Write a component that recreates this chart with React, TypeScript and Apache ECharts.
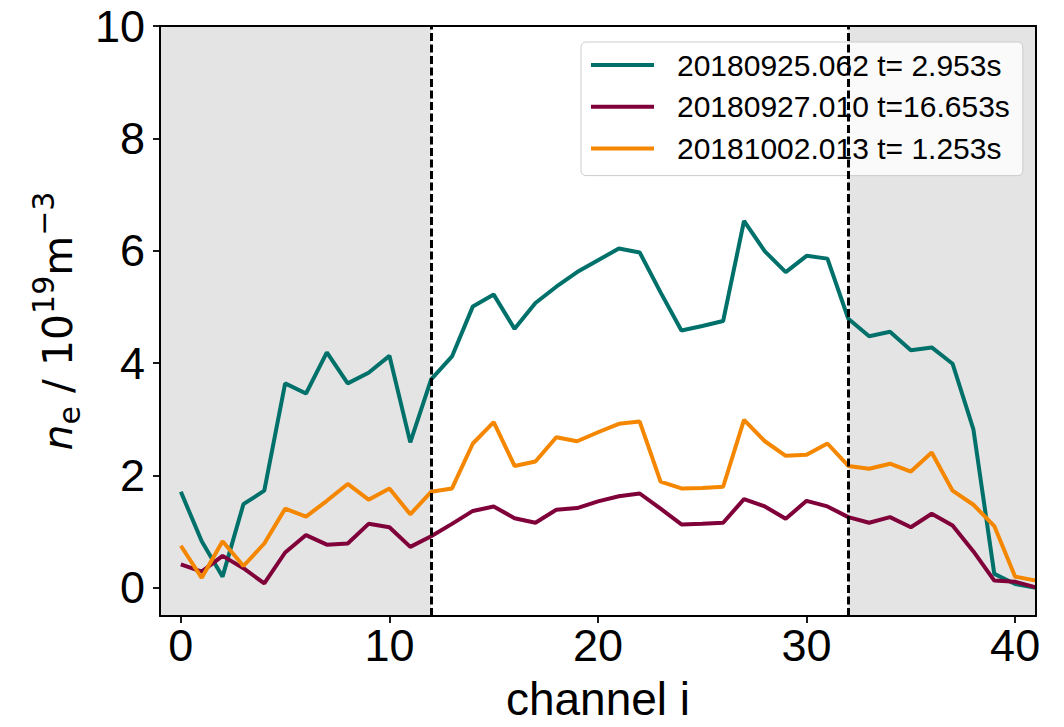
import React, { useEffect, useRef } from "react";
import * as echarts from "echarts";

const channels = [
  0, 1, 2, 3, 4, 5, 6, 7, 8, 9, 10, 11, 12, 13, 14, 15, 16, 17, 18, 19, 20,
  21, 22, 23, 24, 25, 26, 27, 28, 29, 30, 31, 32, 33, 34, 35, 36, 37, 38, 39, 40, 41,
];

const teal = [
  1.71, 0.83, 0.2, 1.49, 1.73, 3.64, 3.46, 4.19, 3.64, 3.83, 4.13, 2.59, 3.71, 4.12,
  5.01, 5.22, 4.61, 5.07, 5.36, 5.62, 5.83, 6.04, 5.97, 5.26, 4.58, 4.66, 4.75, 6.53,
  5.99, 5.62, 5.91, 5.86, 4.79, 4.48, 4.56, 4.23, 4.28, 3.99, 2.82, 0.25, 0.07, 0.0,
];

const maroon = [
  0.42, 0.29, 0.57, 0.35, 0.08, 0.63, 0.94, 0.77, 0.79, 1.14, 1.08, 0.73, 0.92, 1.14,
  1.37, 1.45, 1.24, 1.16, 1.39, 1.42, 1.54, 1.63, 1.68, 1.41, 1.13, 1.14, 1.16, 1.58,
  1.45, 1.23, 1.55, 1.45, 1.26, 1.16, 1.26, 1.08, 1.32, 1.11, 0.65, 0.13, 0.11, 0.01,
];

const orange = [
  0.75, 0.18, 0.83, 0.39, 0.79, 1.41, 1.27, 1.55, 1.85, 1.57, 1.77, 1.31, 1.71, 1.77,
  2.57, 2.95, 2.17, 2.25, 2.68, 2.61, 2.77, 2.92, 2.96, 1.89, 1.77, 1.78, 1.8, 2.99,
  2.61, 2.35, 2.37, 2.57, 2.17, 2.12, 2.21, 2.07, 2.41, 1.73, 1.48, 1.1, 0.2, 0.13,
];

const seriesNames = [
  "20180925.062 t= 2.953s",
  "20180927.010 t=16.653s",
  "20181002.013 t= 1.253s",
];
const seriesColors = ["#00716a", "#80003a", "#f58700"];

const xTicks = [0, 10, 20, 30, 40];
const yTicks = [0, 2, 4, 6, 8, 10];
const xRange = [-1, 41];
const yRange = [-0.5, 10];
const shadedRanges = [
  [-1, 12],
  [32, 41],
];
const dashedLines = [12, 32];

export default function App() {
  const ref = useRef<HTMLDivElement>(null);

  useEffect(() => {
    if (!ref.current) return;
    const chart = echarts.init(ref.current, undefined, { renderer: "svg" });
    const tickFont = "Liberation Sans";
    const toPairs = (vals: number[]) => channels.map((c, i) => [c, vals[i]]);
    const lineSeries = [teal, maroon, orange].map((vals, k) => ({
      name: seriesNames[k],
      type: "line",
      data: toPairs(vals),
      symbol: "none",
      z: 3,
      lineStyle: { color: seriesColors[k], width: 4 },
      itemStyle: { color: seriesColors[k] },
    }));

    chart.setOption({
      animation: false,
      backgroundColor: "#ffffff",
      grid: { left: 160, right: 28, top: 26, bottom: 105 },
      legend: {
        data: seriesNames,
        left: 581,
        top: 42,
        orient: "vertical",
        icon: "rect",
        itemWidth: 63,
        itemHeight: 4,
        itemGap: 11.8,
        padding: [8, 13, 12, 10],
        backgroundColor: "rgba(255,255,255,0.8)",
        borderColor: "#cccccc",
        borderWidth: 1,
        borderRadius: 5,
        textStyle: {
          fontFamily: tickFont,
          fontSize: 30,
          lineHeight: 30,
          color: "#000",
          padding: [0, 0, 0, 18],
        },
      },
      xAxis: [
        {
          type: "value",
          min: xRange[0],
          max: xRange[1],
          z: 10,
          name: "channel i",
          nameLocation: "middle",
          nameGap: 60,
          nameTextStyle: { fontFamily: tickFont, fontSize: 46, color: "#000" },
          axisLine: { show: true, onZero: false, lineStyle: { color: "#000", width: 2 } },
          axisTick: { show: true, length: 7, customValues: xTicks, lineStyle: { color: "#000", width: 1.8 } },
          axisLabel: { customValues: xTicks, fontFamily: tickFont, fontSize: 45, color: "#000", margin: 7 },
          splitLine: { show: false },
        },
        {
          type: "value",
          position: "top",
          min: xRange[0],
          max: xRange[1],
          z: 10,
          axisLine: { show: true, onZero: false, lineStyle: { color: "#000", width: 2 } },
          axisTick: { show: false },
          axisLabel: { show: false },
          splitLine: { show: false },
        },
      ],
      yAxis: [
        {
          type: "value",
          min: yRange[0],
          max: yRange[1],
          z: 10,
          name: "{it|n}{sub|e}{n| / 10}{sup|19}{n|m}{sup|\u22123}",
          nameLocation: "middle",
          nameRotate: 90,
          nameGap: 73,
          nameTextStyle: {
            color: "#000",
            rich: {
              it: { fontFamily: "DejaVu Sans", fontStyle: "italic", fontSize: 41, lineHeight: 41, verticalAlign: "bottom", padding: [0, 0, 6, 0], color: "#000" },
              n: { fontFamily: "DejaVu Sans", fontSize: 41, lineHeight: 41, verticalAlign: "bottom", padding: [0, 0, 6, 0], color: "#000" },
              sub: { fontFamily: "DejaVu Sans", fontSize: 30, lineHeight: 30, verticalAlign: "bottom", color: "#000" },
              sup: { fontFamily: "DejaVu Sans", fontSize: 30, lineHeight: 30, verticalAlign: "bottom", padding: [0, 0, 26, 0], color: "#000" },
            },
          },
          axisLine: { show: true, onZero: false, lineStyle: { color: "#000", width: 2 } },
          axisTick: { show: true, length: 7, customValues: yTicks, lineStyle: { color: "#000", width: 1.8 } },
          axisLabel: { customValues: yTicks, fontFamily: tickFont, fontSize: 45, color: "#000", margin: 15 },
          splitLine: { show: false },
        },
        {
          type: "value",
          position: "right",
          min: yRange[0],
          max: yRange[1],
          z: 10,
          axisLine: { show: true, onZero: false, lineStyle: { color: "#000", width: 2 } },
          axisTick: { show: false },
          axisLabel: { show: false },
          splitLine: { show: false },
        },
      ],
      series: [
        {
          name: "regions",
          type: "line",
          data: [],
          z: 1,
          silent: true,
          markArea: {
            silent: true,
            itemStyle: { color: "#e4e4e4" },
            data: shadedRanges.map(([a, b]) => [{ xAxis: a }, { xAxis: b }]),
          },
          markLine: {
            silent: true,
            symbol: "none",
            label: { show: false },
            lineStyle: { color: "#000", type: [8, 3.5], width: 3 },
            data: dashedLines.map((v) => ({ xAxis: v })),
          },
        },
        ...lineSeries,
      ],
    });

    return () => chart.dispose();
  }, []);

  return (
    <div
      ref={ref}
      style={{ position: "fixed", left: 0, top: 0, width: 1064, height: 727 }}
    />
  );
}
